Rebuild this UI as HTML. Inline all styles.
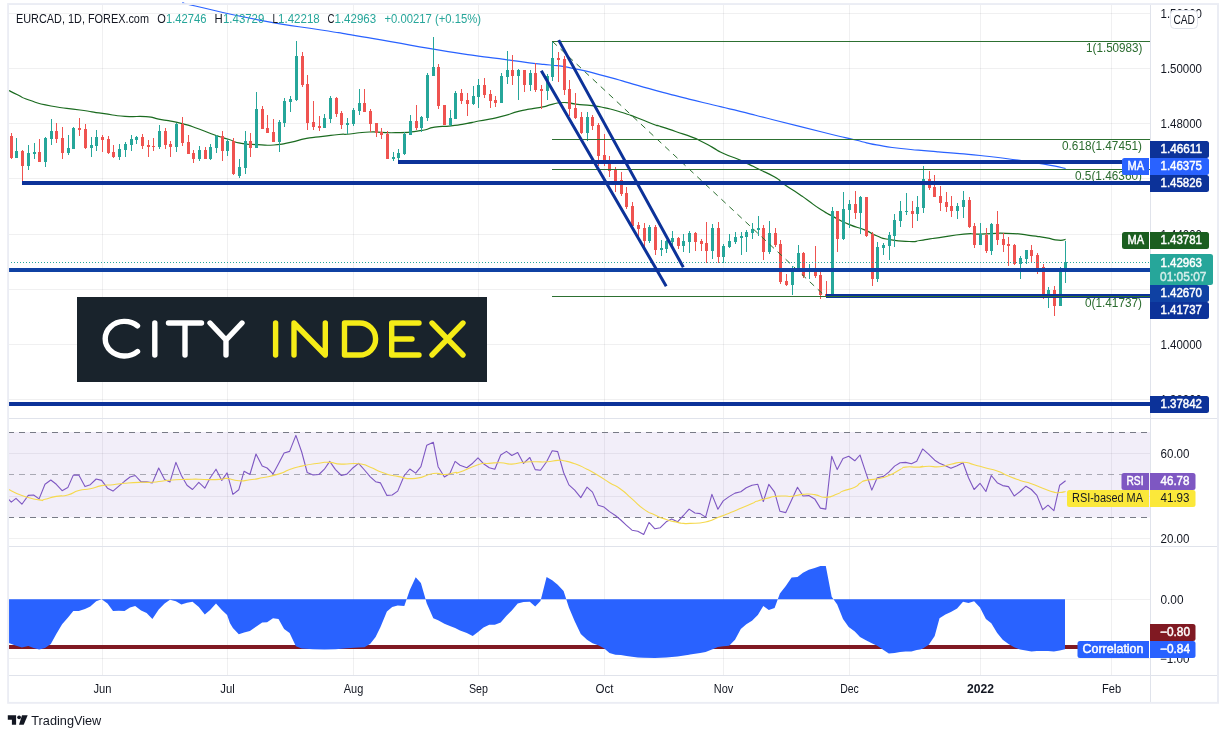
<!DOCTYPE html>
<html><head><meta charset="utf-8"><title>EURCAD</title>
<style>html,body{margin:0;padding:0;background:#fff}svg{display:block;will-change:transform}</style></head>
<body>
<svg width="1228" height="738" viewBox="0 0 1228 738" font-family="Liberation Sans, sans-serif">
<rect width="1228" height="738" fill="#fff"/>
<path d="M102.5 4V675M227.5 4V675M353.5 4V675M478.5 4V675M604.5 4V675M723.5 4V675M849.5 4V675M980.5 4V675M1111.5 4V675" stroke="#2a2e39" stroke-opacity="0.07" stroke-width="1" fill="none" shape-rendering="crispEdges"/>
<path d="M8 13.5H1150M8 68.5H1150M8 123.5H1150M8 178.5H1150M8 234.5H1150M8 289.5H1150M8 344.5H1150M8 399.5H1150M8 453.5H1150M8 496.5H1150M8 538.5H1150M8 599.5H1150M8 658.5H1150" stroke="#2a2e39" stroke-opacity="0.07" stroke-width="1" fill="none" shape-rendering="crispEdges"/>
<rect x="8" y="432" width="1142" height="85.5" fill="#7e57c2" fill-opacity="0.1"/>
<path d="M8 432.5H1150M8 517.5H1150" stroke="#787b86" stroke-width="1" stroke-dasharray="6,5" fill="none" shape-rendering="crispEdges"/>
<path d="M8 474.5H1150" stroke="#787b86" stroke-opacity="0.6" stroke-width="1" stroke-dasharray="6,5" fill="none" shape-rendering="crispEdges"/>
<path d="M8 418.5H1218M8 546.5H1218M8 675.5H1218M1150.5 4V703" stroke="#e0e3eb" stroke-width="1" fill="none" shape-rendering="crispEdges"/>
<path d="M186.0 4.0C189.1 4.7 171.3 0.7 195.3 6.0C219.3 11.3 216.0 11.8 258.0 19.8C300.0 27.8 290.5 25.1 321.2 30.0C351.9 34.9 326.8 30.7 350.0 34.6C373.2 38.5 362.9 36.8 390.7 41.7C418.5 46.6 406.4 44.7 433.5 49.2C460.6 53.7 447.3 51.7 472.0 55.2C496.7 58.7 486.3 57.0 507.5 59.8C528.7 62.6 521.5 62.0 535.7 63.7C549.9 65.4 537.7 63.5 550.0 65.0C562.3 66.5 554.2 64.6 572.6 68.3C591.0 72.0 583.4 70.4 605.1 76.1C626.8 81.8 616.0 79.3 637.7 85.4C659.4 91.5 648.6 88.6 670.3 94.3C692.0 100.0 679.7 96.8 702.9 102.5C726.1 108.2 716.3 105.6 740.0 111.4C763.7 117.2 746.0 113.0 774.0 120.0C802.0 127.0 796.9 125.8 824.0 132.5C851.1 139.2 837.9 135.9 855.4 140.0C872.9 144.1 861.4 142.1 876.6 144.9C891.8 147.7 883.2 146.4 901.0 148.5C918.8 150.6 914.5 149.7 930.0 151.1C945.5 152.5 930.9 151.1 947.6 152.6C964.3 154.1 958.4 153.2 980.1 155.5C1001.8 157.8 991.0 156.5 1012.7 159.5C1034.4 162.5 1027.7 161.4 1045.3 164.4C1062.9 167.4 1058.8 167.1 1065.6 168.5" fill="none" stroke="#2962ff" stroke-width="1.2" stroke-linejoin="round"/>
<path d="M8.0 90.0C11.3 91.7 11.0 91.7 18.0 95.0C25.0 98.3 18.0 96.3 29.0 100.0C40.0 103.7 34.0 102.7 51.0 106.0C68.0 109.3 62.8 107.5 80.0 110.0C97.2 112.5 87.5 111.3 102.5 113.4C117.5 115.5 110.5 115.2 125.0 116.3C139.5 117.4 134.3 115.7 146.0 116.7C157.7 117.7 148.3 117.1 160.0 119.3C171.7 121.5 168.0 120.2 181.0 123.4C194.0 126.6 187.5 125.0 199.0 129.0C210.5 133.0 205.6 131.9 215.4 135.3C225.2 138.7 219.7 136.6 228.4 139.3C237.1 142.0 231.6 141.6 241.4 143.4C251.2 145.2 246.8 144.1 257.7 144.6C268.6 145.1 263.1 145.7 274.0 145.0C284.9 144.3 279.4 144.6 290.3 142.4C301.2 140.2 295.7 140.4 306.6 138.4C317.5 136.4 312.1 137.7 322.9 136.4C333.7 135.1 330.0 135.3 339.0 134.5C348.0 133.7 339.8 134.8 350.0 134.0C360.2 133.2 354.3 132.4 369.5 132.0C384.7 131.6 378.8 133.1 395.6 132.7C412.4 132.3 407.0 132.6 420.0 130.7C433.0 128.8 424.4 128.7 434.7 127.1C445.0 125.5 440.1 127.0 451.0 125.8C461.9 124.6 458.1 125.0 467.3 123.4C476.5 121.8 467.9 123.2 478.7 121.0C489.5 118.8 486.2 120.2 499.8 116.9C513.4 113.6 508.0 114.1 519.4 111.2C530.8 108.3 526.1 109.7 534.0 108.3C541.9 106.9 536.7 108.3 543.0 106.9C549.3 105.5 545.9 105.6 553.0 104.1C560.1 102.6 556.8 102.5 564.4 102.5C572.0 102.5 566.6 103.0 575.8 104.1C585.0 105.2 582.3 104.4 592.1 105.7C601.9 107.0 595.3 105.7 605.1 107.9C614.9 110.1 610.5 108.8 621.4 112.2C632.3 115.6 626.8 113.9 637.7 118.0C648.6 122.1 646.6 121.7 654.0 124.5C661.4 127.3 652.8 124.0 660.0 126.3C667.2 128.6 664.7 127.8 675.6 131.5C686.5 135.2 684.8 134.5 692.6 137.4C700.4 140.3 692.6 137.0 699.1 140.2C705.6 143.4 704.3 142.8 712.1 147.1C719.9 151.4 713.8 148.9 722.5 153.0C731.2 157.1 729.5 155.6 738.2 159.3C746.9 163.0 741.7 160.8 748.6 164.1C755.5 167.4 750.3 165.0 759.0 169.3C767.7 173.6 766.0 171.9 774.7 177.1C783.4 182.3 777.3 179.5 785.1 184.9C792.9 190.3 790.7 188.4 798.1 193.4C805.5 198.4 799.7 194.5 807.4 200.0C815.1 205.5 812.3 204.1 821.2 209.8C830.1 215.5 825.0 212.2 834.2 217.1C843.4 222.0 838.6 220.1 848.9 224.4C859.2 228.7 856.0 226.3 865.2 230.1C874.4 233.9 868.5 232.6 876.6 235.8C884.7 239.0 878.7 237.7 889.6 239.6C900.5 241.5 899.1 241.2 909.2 241.5C919.3 241.8 913.1 241.4 920.0 240.5C926.9 239.6 923.5 239.7 930.0 238.8C936.5 237.9 928.1 239.3 939.4 237.7C950.7 236.1 950.4 235.3 963.9 234.1C977.4 232.9 965.9 234.4 980.0 234.1C994.1 233.8 989.9 232.9 1006.2 233.3C1022.5 233.7 1016.0 233.8 1029.0 235.3C1042.0 236.8 1035.5 236.1 1045.3 237.7C1055.1 239.3 1051.5 239.7 1058.3 240.2C1065.1 240.7 1063.2 239.6 1065.6 239.3" fill="none" stroke="#1b6b20" stroke-width="1.2" stroke-linejoin="round"/>
<path d="M11 133h1v26h-1zM10 136h3v22h-3zM22 150h1v31h-1zM21 151h3v15h-3zM39 139h1v23h-1zM38 152h3v10h-3zM56 123h1v20h-1zM55 131h3v8h-3zM62 127h1v32h-1zM61 138h3v15h-3zM79 118h1v18h-1zM78 128h3v2h-3zM85 124h1v25h-1zM84 129h3v19h-3zM102 135h1v17h-1zM101 137h3v3h-3zM108 136h1v18h-1zM107 139h3v14h-3zM113 145h1v13h-1zM112 152h3v5h-3zM142 134h1v15h-1zM141 137h3v9h-3zM148 140h1v17h-1zM147 145h3v2h-3zM153 138h1v13h-1zM152 146h3v1h-3zM165 128h1v21h-1zM164 131h3v14h-3zM170 141h1v16h-1zM169 144h3v3h-3zM182 117h1v29h-1zM181 124h3v19h-3zM188 135h1v19h-1zM187 142h3v12h-3zM193 150h1v13h-1zM192 153h3v6h-3zM205 147h1v12h-1zM204 150h3v9h-3zM222 131h1v30h-1zM221 136h3v15h-3zM233 138h1v37h-1zM232 141h3v33h-3zM250 133h1v24h-1zM249 141h3v7h-3zM262 106h1v23h-1zM261 109h3v20h-3zM267 115h1v18h-1zM266 128h3v5h-3zM273 119h1v23h-1zM272 132h3v10h-3zM302 52h1v35h-1zM301 56h3v29h-3zM307 75h1v55h-1zM306 84h3v39h-3zM313 101h1v29h-1zM312 122h3v5h-3zM319 116h1v15h-1zM318 126h3v2h-3zM336 97h1v20h-1zM335 98h3v16h-3zM341 111h1v18h-1zM340 113h3v12h-3zM364 89h1v23h-1zM363 103h3v9h-3zM370 109h1v23h-1zM369 111h3v13h-3zM376 123h1v14h-1zM375 123h3v10h-3zM381 128h1v11h-1zM380 132h3v3h-3zM387 131h1v28h-1zM386 134h3v25h-3zM416 105h1v25h-1zM415 121h3v7h-3zM438 64h1v45h-1zM437 67h3v39h-3zM444 105h1v20h-1zM443 105h3v20h-3zM461 89h1v15h-1zM460 93h3v8h-3zM467 93h1v23h-1zM466 100h3v4h-3zM484 78h1v20h-1zM483 85h3v10h-3zM490 90h1v18h-1zM489 94h3v7h-3zM495 96h1v11h-1zM494 100h3v3h-3zM512 55h1v30h-1zM511 70h3v6h-3zM524 70h1v22h-1zM523 70h3v15h-3zM535 63h1v29h-1zM534 73h3v17h-3zM541 85h1v24h-1zM540 89h3v2h-3zM558 52h1v30h-1zM557 58h3v2h-3zM564 56h1v39h-1zM563 59h3v31h-3zM569 80h1v36h-1zM568 89h3v20h-3zM575 93h1v26h-1zM574 108h3v10h-3zM581 112h1v22h-1zM580 117h3v16h-3zM592 115h1v15h-1zM591 117h3v9h-3zM598 123h1v43h-1zM597 125h3v31h-3zM604 134h1v32h-1zM603 155h3v5h-3zM609 156h1v21h-1zM608 160h3v11h-3zM615 167h1v25h-1zM614 170h3v11h-3zM621 172h1v24h-1zM620 180h3v14h-3zM626 187h1v22h-1zM625 193h3v14h-3zM632 202h1v25h-1zM631 206h3v20h-3zM638 222h1v14h-1zM637 225h3v4h-3zM644 223h1v24h-1zM643 228h3v13h-3zM655 225h1v30h-1zM654 227h3v23h-3zM678 237h1v12h-1zM677 238h3v8h-3zM695 232h1v19h-1zM694 233h3v9h-3zM701 239h1v12h-1zM700 241h3v3h-3zM706 222h1v41h-1zM705 243h3v8h-3zM718 222h1v41h-1zM717 228h3v29h-3zM763 225h1v35h-1zM762 228h3v24h-3zM775 228h1v19h-1zM774 233h3v12h-3zM780 240h1v44h-1zM779 244h3v38h-3zM786 274h1v12h-1zM785 281h3v4h-3zM803 252h1v26h-1zM802 253h3v23h-3zM815 246h1v32h-1zM814 272h3v4h-3zM820 272h1v27h-1zM819 275h3v20h-3zM826 281h1v15h-1zM825 294h3v2h-3zM837 211h1v41h-1zM836 211h3v28h-3zM855 191h1v28h-1zM854 204h3v9h-3zM866 197h1v40h-1zM865 197h3v39h-3zM872 232h1v54h-1zM871 234h3v45h-3zM912 201h1v27h-1zM911 211h3v3h-3zM929 171h1v19h-1zM928 179h3v9h-3zM934 175h1v22h-1zM933 187h3v10h-3zM940 186h1v25h-1zM939 196h3v7h-3zM946 192h1v20h-1zM945 202h3v5h-3zM951 196h1v21h-1zM950 206h3v5h-3zM969 197h1v31h-1zM968 200h3v27h-3zM974 223h1v25h-1zM973 226h3v19h-3zM986 228h1v25h-1zM985 235h3v16h-3zM997 211h1v34h-1zM996 224h3v16h-3zM1003 233h1v19h-1zM1002 239h3v6h-3zM1008 237h1v29h-1zM1007 244h3v2h-3zM1014 244h1v21h-1zM1013 245h3v19h-3zM1031 245h1v17h-1zM1030 250h3v6h-3zM1037 253h1v21h-1zM1036 255h3v14h-3zM1043 264h1v35h-1zM1042 267h3v28h-3zM1054 286h1v30h-1zM1053 290h3v16h-3z" fill="#ef5350" shape-rendering="crispEdges"/>
<path d="M16 138h1v20h-1zM15 151h3v7h-3zM28 145h1v25h-1zM27 153h3v13h-3zM34 143h1v16h-1zM33 152h3v2h-3zM45 137h1v30h-1zM44 138h3v24h-3zM51 119h1v26h-1zM50 131h3v8h-3zM68 135h1v20h-1zM67 148h3v5h-3zM73 127h1v22h-1zM72 128h3v21h-3zM91 137h1v20h-1zM90 145h3v3h-3zM96 130h1v21h-1zM95 137h3v9h-3zM119 144h1v16h-1zM118 149h3v8h-3zM125 142h1v15h-1zM124 144h3v6h-3zM131 135h1v16h-1zM130 139h3v6h-3zM136 136h1v8h-1zM135 137h3v3h-3zM159 125h1v24h-1zM158 131h3v16h-3zM176 123h1v29h-1zM175 124h3v23h-3zM199 146h1v15h-1zM198 150h3v9h-3zM210 144h1v16h-1zM209 147h3v12h-3zM216 135h1v18h-1zM215 136h3v12h-3zM227 139h1v17h-1zM226 141h3v10h-3zM239 159h1v19h-1zM238 167h3v9h-3zM245 131h1v43h-1zM244 141h3v27h-3zM256 92h1v56h-1zM255 109h3v39h-3zM279 120h1v32h-1zM278 122h3v20h-3zM284 98h1v29h-1zM283 101h3v22h-3zM290 96h1v16h-1zM289 99h3v3h-3zM296 41h1v60h-1zM295 56h3v44h-3zM324 114h1v14h-1zM323 118h3v10h-3zM330 96h1v27h-1zM329 98h3v21h-3zM347 118h1v16h-1zM346 123h3v2h-3zM353 108h1v18h-1zM352 110h3v14h-3zM359 89h1v26h-1zM358 103h3v8h-3zM393 152h1v9h-1zM392 157h3v2h-3zM398 149h1v11h-1zM397 153h3v5h-3zM404 132h1v23h-1zM403 134h3v20h-3zM410 115h1v20h-1zM409 121h3v14h-3zM421 116h1v16h-1zM420 117h3v11h-3zM427 73h1v48h-1zM426 75h3v43h-3zM433 37h1v39h-1zM432 67h3v9h-3zM450 110h1v16h-1zM449 118h3v7h-3zM455 91h1v28h-1zM454 93h3v26h-3zM473 86h1v19h-1zM472 96h3v8h-3zM478 79h1v29h-1zM477 85h3v12h-3zM501 73h1v30h-1zM500 76h3v27h-3zM507 51h1v33h-1zM506 70h3v7h-3zM518 69h1v31h-1zM517 70h3v6h-3zM530 70h1v21h-1zM529 73h3v12h-3zM547 74h1v26h-1zM546 76h3v15h-3zM552 41h1v40h-1zM551 58h3v19h-3zM587 112h1v29h-1zM586 117h3v16h-3zM649 225h1v18h-1zM648 227h3v14h-3zM661 240h1v16h-1zM660 248h3v2h-3zM666 240h1v13h-1zM665 241h3v8h-3zM672 231h1v15h-1zM671 238h3v4h-3zM683 234h1v18h-1zM682 241h3v5h-3zM689 231h1v22h-1zM688 233h3v9h-3zM712 224h1v35h-1zM711 228h3v23h-3zM723 244h1v19h-1zM722 246h3v11h-3zM729 234h1v14h-1zM728 241h3v6h-3zM735 232h1v12h-1zM734 237h3v5h-3zM741 232h1v23h-1zM740 236h3v2h-3zM746 230h1v22h-1zM745 232h3v5h-3zM752 223h1v16h-1zM751 229h3v4h-3zM758 216h1v20h-1zM757 228h3v2h-3zM769 221h1v33h-1zM768 233h3v19h-3zM792 266h1v29h-1zM791 271h3v14h-3zM798 245h1v27h-1zM797 253h3v18h-3zM809 264h1v15h-1zM808 271h3v1h-3zM832 207h1v89h-1zM831 211h3v85h-3zM843 192h1v48h-1zM842 209h3v30h-3zM849 200h1v28h-1zM848 204h3v6h-3zM860 196h1v38h-1zM859 197h3v16h-3zM877 242h1v40h-1zM876 247h3v32h-3zM883 243h1v12h-1zM882 245h3v3h-3zM889 232h1v28h-1zM888 235h3v11h-3zM894 214h1v33h-1zM893 220h3v16h-3zM900 201h1v26h-1zM899 211h3v10h-3zM906 193h1v22h-1zM905 211h3v1h-3zM917 196h1v25h-1zM916 207h3v7h-3zM923 166h1v47h-1zM922 179h3v29h-3zM957 203h1v16h-1zM956 206h3v5h-3zM963 191h1v27h-1zM962 200h3v7h-3zM980 223h1v22h-1zM979 234h3v11h-3zM991 223h1v32h-1zM990 224h3v27h-3zM1020 256h1v23h-1zM1019 258h3v6h-3zM1026 250h1v14h-1zM1025 250h3v9h-3zM1048 287h1v21h-1zM1047 290h3v5h-3zM1060 267h1v39h-1zM1059 271h3v35h-3zM1065 241h1v42h-1zM1064 262h3v7h-3z" fill="#26a69a" shape-rendering="crispEdges"/>
<rect x="826" y="294" width="324" height="4" fill="#0c3299"/>
<path d="M552 41.5H1150M552 139.5H1150M552 169.5H1150M552 296.5H1150" stroke="#2d7031" stroke-width="1" fill="none" shape-rendering="crispEdges"/>
<path d="M552.5 41.5L825 296" stroke="#2d7031" stroke-width="1" stroke-dasharray="6,5" fill="none"/>
<path d="M8 262.5H1150" stroke="#26a69a" stroke-width="1" stroke-dasharray="1,2" fill="none" shape-rendering="crispEdges"/>
<text x="1142.5" y="51.8" font-size="12" fill="#2a6b2e" text-anchor="end" font-weight="normal" textLength="56.5" lengthAdjust="spacingAndGlyphs">1(1.50983)</text>
<text x="1142.0" y="149.8" font-size="12" fill="#2a6b2e" text-anchor="end" font-weight="normal" textLength="80.0" lengthAdjust="spacingAndGlyphs">0.618(1.47451)</text>
<text x="1142.0" y="179.8" font-size="12" fill="#2a6b2e" text-anchor="end" font-weight="normal" textLength="67.0" lengthAdjust="spacingAndGlyphs">0.5(1.46360)</text>
<text x="1142.0" y="306.8" font-size="12" fill="#2a6b2e" text-anchor="end" font-weight="normal" textLength="57.0" lengthAdjust="spacingAndGlyphs">0(1.41737)</text>
<rect x="22" y="181" width="1128" height="4" fill="#0c3299"/>
<rect x="398" y="160" width="724" height="4" fill="#0c3299"/>
<rect x="8" y="268" width="1142" height="4" fill="#0f41a3"/>
<rect x="8" y="402" width="1142" height="4" fill="#0c3299"/>
<path d="M558.7 40.1L683.3 267.3M541.3 70.7L666.2 286.3" stroke="#0c3299" stroke-width="3" fill="none"/>
<rect x="77" y="297" width="410" height="85" fill="#19232c"/>
<g fill="none" stroke="#fff" stroke-width="5.4" stroke-linecap="round" stroke-linejoin="round">
<path d="M137.5 325.9A19.3 17.3 0 1 0 137.5 351.5"/>
<path d="M154.8 323V355"/>
<path d="M168.5 323H201.5M185 323V355"/>
<path d="M210 323L226 340L242 323M226 340V355"/>
</g>
<g fill="none" stroke="#f5ec17" stroke-width="5.4" stroke-linecap="round" stroke-linejoin="round">
<path d="M275.6 323V355"/>
<path d="M294 355V323L325.3 355V323"/>
<path d="M344.5 323V355H359.6A16 16 0 0 0 359.6 323Z"/>
<path d="M419 323H391.7V355H419M391.7 339H412"/>
<path d="M432 323L463 355M463 323L432 355"/>
</g>
<polyline points="8.2,498.9 11.3,502.2 16.0,498.3 21.9,504.2 28.3,495.4 33.6,495.0 39.1,498.9 45.0,484.3 50.8,480.0 56.3,484.3 62.1,490.7 67.8,487.6 73.3,475.1 78.8,475.1 85.0,486.6 90.3,484.7 96.2,479.0 101.6,480.4 107.5,488.2 113.0,491.1 118.8,486.2 124.5,481.3 130.0,477.0 135.2,475.5 141.1,481.9 146.6,481.9 152.4,482.9 158.7,468.0 164.6,479.4 170.0,481.9 175.9,462.4 181.4,475.5 187.0,485.2 192.5,489.5 198.8,482.3 204.8,488.2 210.1,478.0 216.0,469.2 221.8,480.4 227.1,472.9 232.9,494.4 238.8,489.7 244.1,471.2 249.9,474.5 256.0,454.0 262.2,466.1 267.1,468.0 273.0,473.9 278.5,463.7 284.1,453.0 289.6,451.4 295.9,435.4 301.7,452.0 307.2,472.5 313.1,474.9 318.9,474.5 324.4,469.2 329.7,461.4 335.5,469.6 341.4,475.5 346.9,474.1 353.1,467.7 358.6,463.4 364.5,470.0 370.3,476.8 375.6,481.7 380.5,482.9 386.9,495.4 392.2,495.0 397.7,491.1 404.3,475.5 409.8,469.0 415.7,473.1 420.9,466.7 426.8,445.2 433.3,442.2 438.1,466.7 444.4,477.0 449.9,473.5 455.1,461.4 460.0,465.3 466.8,467.7 472.7,463.2 478.0,457.9 483.5,463.7 489.3,467.7 494.8,469.2 500.7,455.0 506.5,451.4 511.8,455.5 517.7,452.6 523.5,463.4 529.8,457.5 535.2,469.6 540.5,470.2 546.6,461.8 552.2,450.7 557.7,451.6 563.6,472.5 568.9,484.9 574.7,490.1 580.8,497.6 587.0,487.2 592.5,492.1 598.2,505.2 604.0,507.1 609.5,511.6 615.4,515.5 620.8,520.0 626.5,525.3 632.0,530.2 637.8,531.2 643.7,534.5 649.0,522.4 654.9,528.8 660.3,527.7 666.2,521.8 671.7,518.9 677.5,521.8 683.4,515.5 689.1,509.1 694.9,513.0 700.2,513.6 705.6,517.1 711.9,494.4 717.9,509.3 723.2,500.9 729.1,496.6 735.0,493.1 740.8,491.7 746.3,487.8 752.0,485.2 757.8,484.3 763.3,501.5 768.8,484.3 774.6,492.1 779.9,511.2 785.8,512.6 791.6,499.9 797.5,487.2 803.0,496.0 808.8,495.6 814.7,498.9 820.4,508.1 825.8,509.1 831.7,456.3 837.2,469.6 843.0,458.5 848.7,456.3 854.8,460.8 860.0,455.0 865.9,472.9 871.8,490.1 877.2,477.8 883.5,476.4 888.8,472.1 894.6,466.1 900.1,462.8 905.6,462.4 911.4,463.7 916.7,461.2 922.6,449.1 922.9,449.1 928.8,454.4 934.7,460.2 939.5,463.2 945.4,465.7 950.9,468.2 957.1,465.7 963.0,462.8 968.5,477.8 974.1,489.5 980.0,483.3 985.9,491.5 991.3,475.5 997.2,482.7 1002.7,485.6 1008.5,486.6 1014.2,496.0 1020.1,491.5 1025.9,486.2 1031.4,489.5 1036.9,495.4 1042.7,509.7 1048.0,505.2 1053.9,510.7 1059.7,485.2 1065.6,480.7" fill="none" stroke="#7e57c2" stroke-width="1.1" stroke-linejoin="round"/>
<path d="M8.2 489.2C12.8 491.2 11.6 491.8 21.9 495.4C32.2 499.0 31.4 498.6 39.1 499.9C46.8 501.2 39.2 500.5 45.0 499.3C50.7 498.1 48.7 497.8 56.3 496.4C63.9 495.0 60.3 497.0 67.8 495.0C75.3 493.1 71.3 492.6 78.8 490.5C86.3 488.4 82.7 490.4 90.3 488.8C97.9 487.1 94.1 487.0 101.6 485.6C109.2 484.3 105.3 485.4 113.0 484.7C120.6 483.9 115.1 484.1 124.5 483.3C133.9 482.5 131.8 482.6 141.1 482.3C150.4 482.0 144.6 482.8 152.4 482.3C160.3 481.8 156.7 481.6 164.6 480.7C172.4 479.9 168.4 480.2 175.9 479.8C183.4 479.3 179.4 479.6 187.0 479.4C194.7 479.2 191.1 479.1 198.8 479.2C206.4 479.3 202.4 479.6 210.1 479.6C217.8 479.6 216.2 479.6 221.8 479.2C227.5 478.8 221.4 477.9 227.1 478.4C232.8 478.9 231.2 480.3 238.8 480.7C246.4 481.2 242.1 480.7 249.9 479.8C257.8 478.8 252.7 479.7 262.2 477.8C271.8 475.9 269.3 476.8 278.5 474.1C287.6 471.4 281.9 472.3 289.6 469.6C297.4 466.9 292.0 468.2 301.7 466.1C311.5 463.9 309.6 464.4 318.9 463.2C328.2 461.9 322.2 462.1 329.7 462.4C337.2 462.7 331.8 463.7 341.4 464.1C351.0 464.6 349.0 462.7 358.6 463.7C368.2 464.8 362.4 464.3 370.3 467.3C378.3 470.2 373.3 469.5 382.4 472.5C391.6 475.6 386.6 474.5 397.7 476.4C408.8 478.4 403.8 479.4 415.7 478.4C427.5 477.4 423.7 474.8 433.3 473.5C442.8 472.2 437.1 474.8 444.4 474.5C451.7 474.2 449.9 473.3 455.1 472.5C460.3 471.8 452.4 474.8 460.0 472.1C467.6 469.5 468.2 467.7 478.0 464.7C487.8 461.8 481.8 464.0 489.3 463.4C496.9 462.7 493.2 462.5 500.7 462.8C508.1 463.0 504.2 464.3 511.8 464.1C519.4 463.9 515.7 463.0 523.5 462.2C531.3 461.4 527.6 461.9 535.2 461.8C542.9 461.7 539.1 462.2 546.6 461.8C554.1 461.3 552.1 460.7 557.7 460.4C563.4 460.1 557.9 459.7 563.6 460.8C569.3 461.9 566.9 460.9 574.7 463.7C582.5 466.5 579.2 465.3 587.0 469.2C594.9 473.1 590.7 471.0 598.2 475.5C605.7 480.0 602.0 478.1 609.5 482.7C617.1 487.3 613.4 483.7 620.8 489.2C628.3 494.6 624.4 492.3 632.0 498.9C639.6 505.6 636.1 503.7 643.7 509.1C651.3 514.4 647.4 511.5 654.9 515.0C662.3 518.4 658.6 517.0 666.2 519.4C673.7 521.9 671.8 521.1 677.5 522.4C683.3 523.7 679.2 523.0 683.4 523.4C687.5 523.7 682.6 523.8 690.0 523.4C697.4 522.9 696.3 523.9 705.6 522.0C715.0 520.0 710.1 520.4 717.9 517.5C725.8 514.6 721.5 516.3 729.1 513.2C736.7 510.1 733.2 511.6 740.8 508.3C748.4 505.0 746.3 505.9 752.0 503.4C757.6 500.9 752.2 502.7 757.8 500.9C763.4 499.1 763.2 499.4 768.8 497.9C774.4 496.4 769.0 497.0 774.6 496.4C780.3 495.7 780.1 496.0 785.8 496.0C791.4 496.0 785.9 496.9 791.6 496.4C797.4 495.9 795.3 495.0 803.0 494.4C810.7 493.8 807.1 493.6 814.7 494.6C822.3 495.6 818.3 497.6 825.8 497.4C833.3 497.2 831.4 496.1 837.2 494.0C842.9 492.0 837.2 493.4 843.0 491.1C848.9 488.8 849.1 489.8 854.8 487.2C860.4 484.6 856.3 485.6 860.0 483.3C863.7 481.0 860.2 481.9 865.9 480.4C871.6 478.9 869.6 480.4 877.2 478.8C884.9 477.2 881.1 478.5 888.8 475.5C896.4 472.4 894.5 472.4 900.1 469.6C905.7 466.8 900.0 467.9 905.6 467.1C911.1 466.2 911.0 467.3 916.7 467.1C922.4 466.8 921.5 466.3 922.6 466.3C923.7 466.3 917.9 467.1 920.0 467.1C922.1 467.1 922.3 466.4 928.8 466.3C935.3 466.2 932.2 467.3 939.5 466.7C946.9 466.0 943.1 465.8 950.9 464.3C958.7 462.8 955.2 462.1 963.0 462.2C970.7 462.3 966.5 462.8 974.1 464.7C981.8 466.7 978.2 466.0 985.9 468.0C993.6 470.1 989.6 468.3 997.2 471.0C1004.8 473.6 1000.9 472.9 1008.5 476.1C1016.2 479.2 1012.4 477.8 1020.1 480.4C1027.7 482.9 1023.8 481.1 1031.4 483.7C1039.0 486.3 1035.2 485.4 1042.7 488.2C1050.2 491.0 1048.2 490.7 1053.9 492.1C1059.5 493.5 1055.8 492.7 1059.7 492.5C1063.6 492.3 1063.6 491.8 1065.6 491.5" fill="none" stroke="#f5d94e" stroke-width="1.1" stroke-linejoin="round"/>
<rect x="8" y="645" width="1141" height="4" fill="#801922"/>
<polygon points="8.0,599.3 8.0,642.7 8.2,642.7 14.7,645.3 21.9,647.6 28.3,646.0 33.6,648.0 39.1,649.6 45.0,648.0 50.8,644.1 56.3,633.9 62.1,624.2 67.8,617.7 73.3,611.1 78.8,611.1 85.0,609.1 90.3,606.6 96.2,601.3 101.6,599.3 107.5,603.6 113.0,611.1 118.8,610.7 124.5,611.1 130.0,607.5 135.2,606.0 141.1,610.5 146.6,613.0 152.4,618.9 158.7,609.5 164.6,603.6 170.0,599.7 175.9,601.3 181.4,604.6 187.0,602.7 192.5,601.7 198.8,607.1 204.8,614.4 210.1,610.1 216.0,603.6 221.8,610.1 227.1,615.0 230.0,623.2 232.9,628.1 238.8,634.3 244.1,632.4 249.9,631.0 256.0,626.7 262.2,622.6 267.1,622.2 273.0,618.3 278.5,618.9 284.1,629.0 289.6,632.9 295.9,646.2 301.7,648.6 313.1,649.2 324.4,649.6 335.5,649.2 346.9,648.2 358.6,647.6 364.5,647.2 370.3,643.7 375.6,636.9 380.5,627.1 386.9,611.4 392.2,607.1 397.7,605.6 404.3,606.0 409.8,590.0 415.7,577.2 420.9,583.1 426.8,603.6 433.3,618.3 438.1,620.2 444.4,623.8 449.9,626.1 455.1,628.1 460.0,630.4 466.8,632.9 472.7,635.9 478.0,632.0 483.5,627.5 489.3,624.7 494.8,624.7 500.7,622.6 506.5,615.7 511.8,610.5 517.7,603.6 523.5,602.1 529.8,601.7 535.2,606.6 540.5,601.1 546.6,576.9 552.2,580.2 557.7,584.7 563.6,590.9 568.9,607.5 574.7,621.2 580.8,633.9 587.0,639.8 592.5,643.3 598.2,645.3 604.0,648.2 609.5,653.1 615.4,654.8 620.8,655.0 626.5,656.0 632.0,656.8 637.8,657.4 643.7,657.8 654.9,658.0 666.2,657.4 677.5,656.4 689.1,654.8 690.0,654.4 700.2,653.1 705.6,652.1 711.9,649.6 717.9,647.0 723.2,646.2 729.1,645.7 735.0,639.8 740.8,629.0 746.3,624.2 752.0,620.8 757.8,615.0 763.3,606.0 768.8,609.9 774.6,607.9 779.9,593.5 785.8,586.0 791.6,577.6 797.5,576.9 803.0,572.8 808.8,569.8 814.7,567.9 820.4,565.9 825.8,566.1 831.7,596.8 837.2,604.6 843.0,618.9 848.7,627.1 854.8,631.6 860.0,636.9 865.9,640.2 871.8,643.3 877.2,645.7 883.5,650.0 888.8,653.5 894.6,652.9 900.1,652.1 905.6,651.5 911.4,651.5 916.7,650.1 920.0,649.6 922.9,648.6 928.8,644.7 934.7,635.9 939.5,618.3 945.4,614.4 950.9,612.0 957.1,608.5 963.0,601.7 968.5,603.0 974.1,601.3 980.0,607.5 985.9,618.9 991.3,623.2 997.2,632.9 1002.7,639.8 1008.5,644.1 1014.2,647.2 1020.1,649.6 1025.9,650.5 1031.4,651.5 1036.9,651.1 1042.7,650.9 1048.0,651.1 1053.9,651.5 1059.7,650.5 1065.0,649.2 1065.0,599.3" fill="#2962ff"/>
<text x="1160.5" y="72.8" font-size="12" fill="#131722" text-anchor="start" font-weight="normal" textLength="41.5" lengthAdjust="spacingAndGlyphs">1.50000</text>
<text x="1160.5" y="127.8" font-size="12" fill="#131722" text-anchor="start" font-weight="normal" textLength="41.5" lengthAdjust="spacingAndGlyphs">1.48000</text>
<text x="1160.5" y="348.8" font-size="12" fill="#131722" text-anchor="start" font-weight="normal" textLength="41.5" lengthAdjust="spacingAndGlyphs">1.40000</text>
<text x="1160.5" y="17.8" font-size="12" fill="#131722" text-anchor="start" font-weight="normal" textLength="41.5" lengthAdjust="spacingAndGlyphs">1.52000</text>
<text x="1160.5" y="182.8" font-size="12" fill="#131722" text-anchor="start" font-weight="normal" textLength="41.5" lengthAdjust="spacingAndGlyphs">1.46000</text>
<text x="1160.5" y="238.8" font-size="12" fill="#131722" text-anchor="start" font-weight="normal" textLength="41.5" lengthAdjust="spacingAndGlyphs">1.44000</text>
<text x="1160.5" y="293.8" font-size="12" fill="#131722" text-anchor="start" font-weight="normal" textLength="41.5" lengthAdjust="spacingAndGlyphs">1.42000</text>
<text x="1160.5" y="403.8" font-size="12" fill="#131722" text-anchor="start" font-weight="normal" textLength="41.5" lengthAdjust="spacingAndGlyphs">1.38000</text>
<text x="1160.5" y="457.8" font-size="12" fill="#131722" text-anchor="start" font-weight="normal" textLength="29.0" lengthAdjust="spacingAndGlyphs">60.00</text>
<text x="1160.5" y="542.8" font-size="12" fill="#131722" text-anchor="start" font-weight="normal" textLength="29.0" lengthAdjust="spacingAndGlyphs">20.00</text>
<text x="1160.5" y="500.8" font-size="12" fill="#131722" text-anchor="start" font-weight="normal" textLength="29.0" lengthAdjust="spacingAndGlyphs">40.00</text>
<text x="1160.5" y="603.8" font-size="12" fill="#131722" text-anchor="start" font-weight="normal" textLength="23.0" lengthAdjust="spacingAndGlyphs">0.00</text>
<text x="1160.0" y="662.8" font-size="12" fill="#131722" text-anchor="start" font-weight="normal" textLength="29.5" lengthAdjust="spacingAndGlyphs">−1.00</text>
<path d="M1150.0 141.0H1206.5a2.5 2.5 0 0 1 2.5 2.5V155.5a2.5 2.5 0 0 1 -2.5 2.5H1150.0z" fill="#0c3299"/>
<text x="1160.5" y="153.2" font-size="12" fill="#fff" text-anchor="start" font-weight="normal" textLength="41.5" lengthAdjust="spacingAndGlyphs" stroke="#fff" stroke-width="0.45">1.46611</text>
<path d="M1149.0 158.0H1124.5a2.5 2.5 0 0 0 -2.5 2.5V172.5a2.5 2.5 0 0 0 2.5 2.5H1149.0z" fill="#2962ff"/>
<text x="1127.5" y="170.2" font-size="12" fill="#fff" text-anchor="start" font-weight="normal" textLength="16.5" lengthAdjust="spacingAndGlyphs" stroke="#fff" stroke-width="0.45">MA</text>
<path d="M1150.0 158.0H1206.5a2.5 2.5 0 0 1 2.5 2.5V172.5a2.5 2.5 0 0 1 -2.5 2.5H1150.0z" fill="#2962ff"/>
<text x="1160.5" y="170.2" font-size="12" fill="#fff" text-anchor="start" font-weight="normal" textLength="41.5" lengthAdjust="spacingAndGlyphs" stroke="#fff" stroke-width="0.45">1.46375</text>
<path d="M1150.0 175.0H1206.5a2.5 2.5 0 0 1 2.5 2.5V189.5a2.5 2.5 0 0 1 -2.5 2.5H1150.0z" fill="#0c3299"/>
<text x="1160.5" y="187.2" font-size="12" fill="#fff" text-anchor="start" font-weight="normal" textLength="41.5" lengthAdjust="spacingAndGlyphs" stroke="#fff" stroke-width="0.45">1.45826</text>
<path d="M1149.0 232.0H1124.5a2.5 2.5 0 0 0 -2.5 2.5V246.5a2.5 2.5 0 0 0 2.5 2.5H1149.0z" fill="#1b5e20"/>
<text x="1127.5" y="244.2" font-size="12" fill="#fff" text-anchor="start" font-weight="normal" textLength="16.5" lengthAdjust="spacingAndGlyphs" stroke="#fff" stroke-width="0.45">MA</text>
<path d="M1150.0 232.0H1206.5a2.5 2.5 0 0 1 2.5 2.5V246.5a2.5 2.5 0 0 1 -2.5 2.5H1150.0z" fill="#1b5e20"/>
<text x="1160.5" y="244.2" font-size="12" fill="#fff" text-anchor="start" font-weight="normal" textLength="41.5" lengthAdjust="spacingAndGlyphs" stroke="#fff" stroke-width="0.45">1.43781</text>
<path d="M1150.0 254.0H1210.5a2.5 2.5 0 0 1 2.5 2.5V282.5a2.5 2.5 0 0 1 -2.5 2.5H1150.0z" fill="#26a69a"/>
<text x="1160.5" y="266.9" font-size="12" fill="#fff" text-anchor="start" font-weight="normal" textLength="41.5" lengthAdjust="spacingAndGlyphs" stroke="#fff" stroke-width="0.45">1.42963</text>
<text x="1160.0" y="280.8" font-size="12" fill="#d4edea" text-anchor="start" font-weight="normal" textLength="46.5" lengthAdjust="spacingAndGlyphs" stroke="#d4edea" stroke-width="0.45">01:05:07</text>
<path d="M1150.0 285.0H1206.5a2.5 2.5 0 0 1 2.5 2.5V299.5a2.5 2.5 0 0 1 -2.5 2.5H1150.0z" fill="#0f41a3"/>
<text x="1160.5" y="297.2" font-size="12" fill="#fff" text-anchor="start" font-weight="normal" textLength="41.5" lengthAdjust="spacingAndGlyphs" stroke="#fff" stroke-width="0.45">1.42670</text>
<path d="M1150.0 302.0H1206.5a2.5 2.5 0 0 1 2.5 2.5V316.5a2.5 2.5 0 0 1 -2.5 2.5H1150.0z" fill="#0c3299"/>
<text x="1160.5" y="314.2" font-size="12" fill="#fff" text-anchor="start" font-weight="normal" textLength="41.5" lengthAdjust="spacingAndGlyphs" stroke="#fff" stroke-width="0.45">1.41737</text>
<path d="M1150.0 396.0H1206.5a2.5 2.5 0 0 1 2.5 2.5V410.5a2.5 2.5 0 0 1 -2.5 2.5H1150.0z" fill="#0c3299"/>
<text x="1160.5" y="408.2" font-size="12" fill="#fff" text-anchor="start" font-weight="normal" textLength="41.5" lengthAdjust="spacingAndGlyphs" stroke="#fff" stroke-width="0.45">1.37842</text>
<rect x="1170.5" y="10.5" width="27" height="18" rx="4" fill="#fff" stroke="#e0e3eb"/>
<text x="1173.4" y="24.0" font-size="12" fill="#131722" text-anchor="start" font-weight="normal" textLength="21.5" lengthAdjust="spacingAndGlyphs">CAD</text>
<path d="M1149.0 473.0H1124.0a2.5 2.5 0 0 0 -2.5 2.5V487.5a2.5 2.5 0 0 0 2.5 2.5H1149.0z" fill="#7e57c2"/>
<text x="1126.5" y="485.2" font-size="12" fill="#fff" text-anchor="start" font-weight="normal" textLength="17.0" lengthAdjust="spacingAndGlyphs" stroke="#fff" stroke-width="0.45">RSI</text>
<path d="M1150.0 473.0H1193.0a2.5 2.5 0 0 1 2.5 2.5V487.5a2.5 2.5 0 0 1 -2.5 2.5H1150.0z" fill="#7e57c2"/>
<text x="1160.5" y="485.2" font-size="12" fill="#fff" text-anchor="start" font-weight="normal" textLength="29.0" lengthAdjust="spacingAndGlyphs" stroke="#fff" stroke-width="0.45">46.78</text>
<path d="M1149.0 490.0H1069.5a2.5 2.5 0 0 0 -2.5 2.5V504.5a2.5 2.5 0 0 0 2.5 2.5H1149.0z" fill="#fbe83a"/>
<text x="1072.0" y="502.2" font-size="12" fill="#131722" text-anchor="start" font-weight="normal" textLength="71.0" lengthAdjust="spacingAndGlyphs">RSI-based MA</text>
<path d="M1150.0 490.0H1193.0a2.5 2.5 0 0 1 2.5 2.5V504.5a2.5 2.5 0 0 1 -2.5 2.5H1150.0z" fill="#fbe83a"/>
<text x="1160.5" y="502.2" font-size="12" fill="#131722" text-anchor="start" font-weight="normal" textLength="29.0" lengthAdjust="spacingAndGlyphs">41.93</text>
<path d="M1150.0 624.0H1193.0a2.5 2.5 0 0 1 2.5 2.5V638.5a2.5 2.5 0 0 1 -2.5 2.5H1150.0z" fill="#801922"/>
<text x="1160.0" y="636.2" font-size="12" fill="#fff" text-anchor="start" font-weight="normal" textLength="30.0" lengthAdjust="spacingAndGlyphs" stroke="#fff" stroke-width="0.45">−0.80</text>
<path d="M1149.0 641.0H1080.0a2.5 2.5 0 0 0 -2.5 2.5V655.5a2.5 2.5 0 0 0 2.5 2.5H1149.0z" fill="#2962ff"/>
<text x="1082.5" y="653.2" font-size="12" fill="#fff" text-anchor="start" font-weight="normal" textLength="61.0" lengthAdjust="spacingAndGlyphs" stroke="#fff" stroke-width="0.45">Correlation</text>
<path d="M1150.0 641.0H1193.0a2.5 2.5 0 0 1 2.5 2.5V655.5a2.5 2.5 0 0 1 -2.5 2.5H1150.0z" fill="#2962ff"/>
<text x="1160.0" y="653.2" font-size="12" fill="#fff" text-anchor="start" font-weight="normal" textLength="30.0" lengthAdjust="spacingAndGlyphs" stroke="#fff" stroke-width="0.45">−0.84</text>
<text x="102.5" y="692.8" font-size="12" fill="#131722" text-anchor="middle" font-weight="normal" textLength="18.0" lengthAdjust="spacingAndGlyphs">Jun</text>
<text x="227.5" y="692.8" font-size="12" fill="#131722" text-anchor="middle" font-weight="normal" textLength="14.5" lengthAdjust="spacingAndGlyphs">Jul</text>
<text x="353.5" y="692.8" font-size="12" fill="#131722" text-anchor="middle" font-weight="normal" textLength="19.5" lengthAdjust="spacingAndGlyphs">Aug</text>
<text x="478.5" y="692.8" font-size="12" fill="#131722" text-anchor="middle" font-weight="normal" textLength="19.0" lengthAdjust="spacingAndGlyphs">Sep</text>
<text x="604.5" y="692.8" font-size="12" fill="#131722" text-anchor="middle" font-weight="normal" textLength="18.0" lengthAdjust="spacingAndGlyphs">Oct</text>
<text x="723.5" y="692.8" font-size="12" fill="#131722" text-anchor="middle" font-weight="normal" textLength="19.5" lengthAdjust="spacingAndGlyphs">Nov</text>
<text x="849.5" y="692.8" font-size="12" fill="#131722" text-anchor="middle" font-weight="normal" textLength="18.6" lengthAdjust="spacingAndGlyphs">Dec</text>
<text x="980.5" y="692.8" font-size="12" fill="#131722" text-anchor="middle" font-weight="bold" textLength="27.0" lengthAdjust="spacingAndGlyphs">2022</text>
<text x="1111.5" y="692.8" font-size="12" fill="#131722" text-anchor="middle" font-weight="normal" textLength="19.2" lengthAdjust="spacingAndGlyphs">Feb</text>
<text x="16.0" y="22.7" font-size="12" fill="#131722" text-anchor="start" font-weight="normal" textLength="133.0" lengthAdjust="spacingAndGlyphs">EURCAD, 1D, FOREX.com</text>
<text x="157.2" y="22.7" font-size="12" fill="#131722" text-anchor="start" font-weight="normal" textLength="8.6" lengthAdjust="spacingAndGlyphs">O</text>
<text x="166.0" y="22.7" font-size="12" fill="#26a69a" text-anchor="start" font-weight="normal" textLength="40.5" lengthAdjust="spacingAndGlyphs">1.42746</text>
<text x="214.6" y="22.7" font-size="12" fill="#131722" text-anchor="start" font-weight="normal" textLength="8.2" lengthAdjust="spacingAndGlyphs">H</text>
<text x="223.0" y="22.7" font-size="12" fill="#26a69a" text-anchor="start" font-weight="normal" textLength="41.3" lengthAdjust="spacingAndGlyphs">1.43729</text>
<text x="272.4" y="22.7" font-size="12" fill="#131722" text-anchor="start" font-weight="normal" textLength="5.5" lengthAdjust="spacingAndGlyphs">L</text>
<text x="278.0" y="22.7" font-size="12" fill="#26a69a" text-anchor="start" font-weight="normal" textLength="41.8" lengthAdjust="spacingAndGlyphs">1.42218</text>
<text x="327.4" y="22.7" font-size="12" fill="#131722" text-anchor="start" font-weight="normal" textLength="7.0" lengthAdjust="spacingAndGlyphs">C</text>
<text x="334.5" y="22.7" font-size="12" fill="#26a69a" text-anchor="start" font-weight="normal" textLength="41.7" lengthAdjust="spacingAndGlyphs">1.42963</text>
<text x="384.4" y="22.7" font-size="12" fill="#26a69a" text-anchor="start" font-weight="normal" textLength="96.6" lengthAdjust="spacingAndGlyphs">+0.00217 (+0.15%)</text>
<rect x="8.1" y="4.05" width="1209.9" height="698.8" fill="none" stroke="#ebedf4" stroke-width="1.9"/>
<g fill="#131722"><path d="M7.8 715.3h8.3v9.5h-4.2v-5.1H7.8z"/><circle cx="19.1" cy="717.3" r="1.9"/><path d="M22 715.3h5.7l-4 9.5h-4.7z"/></g>
<text x="31.3" y="724.8" font-size="12.6" fill="#131722" text-anchor="start" font-weight="normal" textLength="70.0" lengthAdjust="spacingAndGlyphs">TradingView</text>
</svg>
</body></html>
